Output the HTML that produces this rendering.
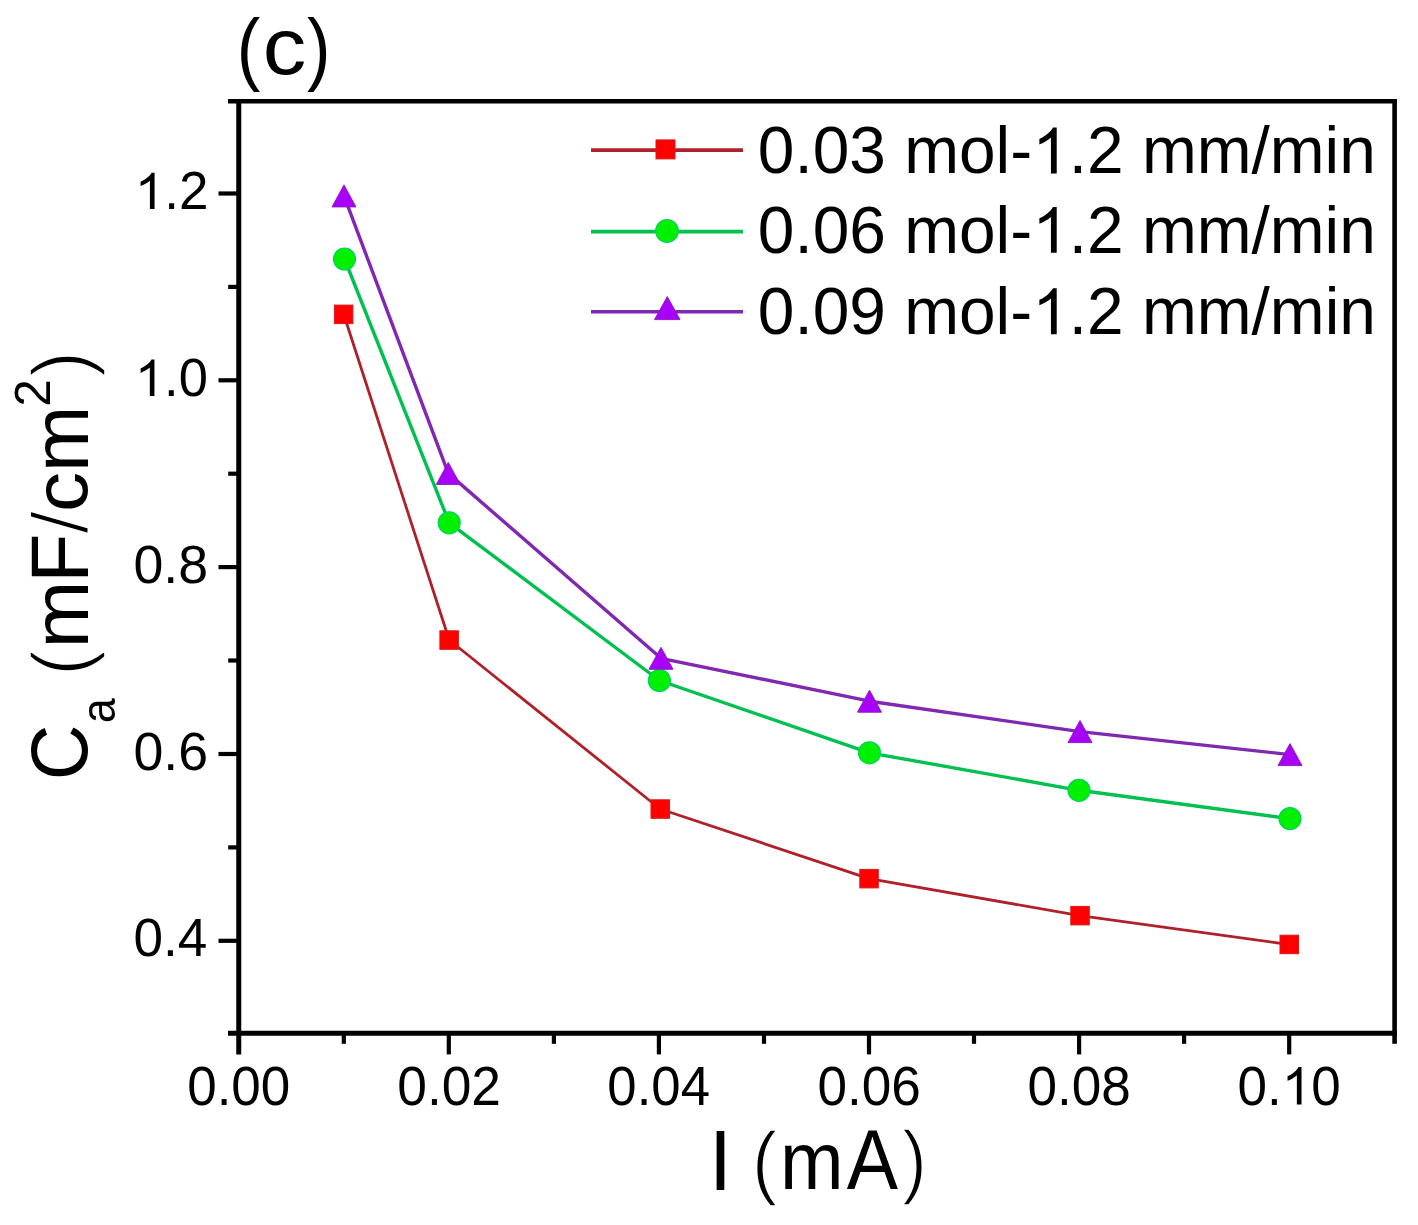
<!DOCTYPE html>
<html><head><meta charset="utf-8"><style>
html,body{margin:0;padding:0;background:#fff;overflow:hidden;}
svg{display:block;will-change:transform;}
text{font-family:"Liberation Sans", sans-serif;}
</style></head><body>
<svg width="1418" height="1225" viewBox="0 0 1418 1225">
<rect x="0" y="0" width="1418" height="1225" fill="#fff"/>
<polyline points="343.7,314.3 449.2,640.0 660.2,809.0 869.0,878.6 1080.0,915.6 1289.3,944.5" fill="none" stroke="#b0202a" stroke-width="2.8" stroke-linejoin="round"/>
<polyline points="344.5,259.0 449.2,522.8 659.4,680.5 869.5,752.8 1079.0,790.3 1290.0,818.6" fill="none" stroke="#00c050" stroke-width="3.4" stroke-linejoin="round"/>
<polyline points="344.0,195.9 448.3,473.4 661.0,658.3 869.5,701.2 1080.0,731.6 1290.0,754.6" fill="none" stroke="#8028b0" stroke-width="3.4" stroke-linejoin="round"/>
<rect x="334.4" y="305.1" width="18.5" height="18.5" fill="#ff0000" stroke="#d81a1a" stroke-width="1"/>
<rect x="439.9" y="630.8" width="18.5" height="18.5" fill="#ff0000" stroke="#d81a1a" stroke-width="1"/>
<rect x="651.0" y="799.8" width="18.5" height="18.5" fill="#ff0000" stroke="#d81a1a" stroke-width="1"/>
<rect x="859.8" y="869.4" width="18.5" height="18.5" fill="#ff0000" stroke="#d81a1a" stroke-width="1"/>
<rect x="1070.8" y="906.4" width="18.5" height="18.5" fill="#ff0000" stroke="#d81a1a" stroke-width="1"/>
<rect x="1280.0" y="935.2" width="18.5" height="18.5" fill="#ff0000" stroke="#d81a1a" stroke-width="1"/>
<circle cx="344.5" cy="259.0" r="11" fill="#00f000" stroke="#00d060" stroke-width="1.2"/>
<circle cx="449.2" cy="522.8" r="11" fill="#00f000" stroke="#00d060" stroke-width="1.2"/>
<circle cx="659.4" cy="680.5" r="11" fill="#00f000" stroke="#00d060" stroke-width="1.2"/>
<circle cx="869.5" cy="752.8" r="11" fill="#00f000" stroke="#00d060" stroke-width="1.2"/>
<circle cx="1079.0" cy="790.3" r="11" fill="#00f000" stroke="#00d060" stroke-width="1.2"/>
<circle cx="1290.0" cy="818.6" r="11" fill="#00f000" stroke="#00d060" stroke-width="1.2"/>
<polygon points="332.0,206.9 356.0,206.9 344.0,184.9" fill="#a800f8" stroke="#8a20c0" stroke-width="1" stroke-linejoin="miter"/>
<polygon points="436.3,484.4 460.3,484.4 448.3,462.4" fill="#a800f8" stroke="#8a20c0" stroke-width="1" stroke-linejoin="miter"/>
<polygon points="649.0,669.3 673.0,669.3 661.0,647.3" fill="#a800f8" stroke="#8a20c0" stroke-width="1" stroke-linejoin="miter"/>
<polygon points="857.5,712.2 881.5,712.2 869.5,690.2" fill="#a800f8" stroke="#8a20c0" stroke-width="1" stroke-linejoin="miter"/>
<polygon points="1068.0,742.6 1092.0,742.6 1080.0,720.6" fill="#a800f8" stroke="#8a20c0" stroke-width="1" stroke-linejoin="miter"/>
<polygon points="1278.0,765.6 1302.0,765.6 1290.0,743.6" fill="#a800f8" stroke="#8a20c0" stroke-width="1" stroke-linejoin="miter"/>
<line x1="238.75" y1="99.3" x2="238.75" y2="1054.5" stroke="#000" stroke-width="5"/>
<line x1="228" y1="1033.2" x2="1397" y2="1033.2" stroke="#000" stroke-width="5"/>
<line x1="228" y1="101.2" x2="1397" y2="101.2" stroke="#000" stroke-width="4.6"/>
<line x1="1394.6" y1="98.9" x2="1394.6" y2="1043.8" stroke="#000" stroke-width="4.6"/>
<line x1="218.5" y1="940.8" x2="238.75" y2="940.8" stroke="#000" stroke-width="4.2"/>
<line x1="228.2" y1="847.4" x2="238.75" y2="847.4" stroke="#000" stroke-width="4.2"/>
<line x1="218.5" y1="754.0" x2="238.75" y2="754.0" stroke="#000" stroke-width="4.2"/>
<line x1="228.2" y1="660.5" x2="238.75" y2="660.5" stroke="#000" stroke-width="4.2"/>
<line x1="218.5" y1="567.1" x2="238.75" y2="567.1" stroke="#000" stroke-width="4.2"/>
<line x1="228.2" y1="473.7" x2="238.75" y2="473.7" stroke="#000" stroke-width="4.2"/>
<line x1="218.5" y1="380.3" x2="238.75" y2="380.3" stroke="#000" stroke-width="4.2"/>
<line x1="228.2" y1="286.9" x2="238.75" y2="286.9" stroke="#000" stroke-width="4.2"/>
<line x1="218.5" y1="193.5" x2="238.75" y2="193.5" stroke="#000" stroke-width="4.2"/>
<line x1="343.8" y1="1033" x2="343.8" y2="1043.8" stroke="#000" stroke-width="4.2"/>
<line x1="448.8" y1="1033" x2="448.8" y2="1054.4" stroke="#000" stroke-width="4.2"/>
<line x1="553.9" y1="1033" x2="553.9" y2="1043.8" stroke="#000" stroke-width="4.2"/>
<line x1="658.9" y1="1033" x2="658.9" y2="1054.4" stroke="#000" stroke-width="4.2"/>
<line x1="764.0" y1="1033" x2="764.0" y2="1043.8" stroke="#000" stroke-width="4.2"/>
<line x1="869.0" y1="1033" x2="869.0" y2="1054.4" stroke="#000" stroke-width="4.2"/>
<line x1="974.0" y1="1033" x2="974.0" y2="1043.8" stroke="#000" stroke-width="4.2"/>
<line x1="1079.1" y1="1033" x2="1079.1" y2="1054.4" stroke="#000" stroke-width="4.2"/>
<line x1="1184.1" y1="1033" x2="1184.1" y2="1043.8" stroke="#000" stroke-width="4.2"/>
<line x1="1289.2" y1="1033" x2="1289.2" y2="1054.4" stroke="#000" stroke-width="4.2"/>
<g transform="translate(187.180,1104.600) scale(0.52993,0.54709)"><text x="0" y="0" font-size="100.0" fill="#000" xml:space="preserve">0.00</text></g>
<g transform="translate(397.247,1104.600) scale(0.53314,0.54709)"><text x="0" y="0" font-size="100.0" fill="#000" xml:space="preserve">0.02</text></g>
<g transform="translate(607.351,1104.600) scale(0.52718,0.54709)"><text x="0" y="0" font-size="100.0" fill="#000" xml:space="preserve">0.04</text></g>
<g transform="translate(817.415,1104.600) scale(0.53132,0.54709)"><text x="0" y="0" font-size="100.0" fill="#000" xml:space="preserve">0.06</text></g>
<g transform="translate(1027.495,1104.600) scale(0.53118,0.54709)"><text x="0" y="0" font-size="100.0" fill="#000" xml:space="preserve">0.08</text></g>
<g transform="translate(1237.580,1104.600) scale(0.52993,0.54709)"><text x="0" y="0" font-size="100.0" fill="#000" xml:space="preserve">0. 0</text><path d="M763 0L583 0L583 1100C540 1060 483 1020 413 980C343 940 280 910 223 890L223 1057C324 1102 412 1158 487 1222C562 1286 615 1348 646 1409L763 1409Z" transform="translate(83.398,0) scale(0.048828,-0.048828)" fill="#000"/></g>
<g transform="translate(133.525,956.380) scale(0.53110,0.52990)"><text x="0" y="0" font-size="100.0" fill="#000" xml:space="preserve">0.4</text></g>
<g transform="translate(133.502,769.560) scale(0.53705,0.52990)"><text x="0" y="0" font-size="100.0" fill="#000" xml:space="preserve">0.6</text></g>
<g transform="translate(133.503,582.740) scale(0.53685,0.52990)"><text x="0" y="0" font-size="100.0" fill="#000" xml:space="preserve">0.8</text></g>
<g transform="translate(134.885,395.920) scale(0.52488,0.52990)"><text x="0" y="0" font-size="100.0" fill="#000" xml:space="preserve"> .0</text><path d="M763 0L583 0L583 1100C540 1060 483 1020 413 980C343 940 280 910 223 890L223 1057C324 1102 412 1158 487 1222C562 1286 615 1348 646 1409L763 1409Z" transform="translate(0.000,0) scale(0.048828,-0.048828)" fill="#000"/></g>
<g transform="translate(134.833,209.100) scale(0.52967,0.52990)"><text x="0" y="0" font-size="100.0" fill="#000" xml:space="preserve"> .2</text><path d="M763 0L583 0L583 1100C540 1060 483 1020 413 980C343 940 280 910 223 890L223 1057C324 1102 412 1158 487 1222C562 1286 615 1348 646 1409L763 1409Z" transform="translate(0.000,0) scale(0.048828,-0.048828)" fill="#000"/></g>
<line x1="591" y1="150.1" x2="743" y2="150.1" stroke="#b0202a" stroke-width="3.6"/>
<rect x="656.0" y="139.9" width="19" height="19" fill="#ff0000" stroke="#d81a1a" stroke-width="1"/>
<g transform="translate(757.829,173.400) scale(0.65819,0.66739)"><text x="0" y="0" font-size="100.0" fill="#000" xml:space="preserve">0.03 mol- .2 mm/min</text><path d="M763 0L583 0L583 1100C540 1060 483 1020 413 980C343 940 280 910 223 890L223 1057C324 1102 412 1158 487 1222C562 1286 615 1348 646 1409L763 1409Z" transform="translate(416.846,0) scale(0.048828,-0.048828)" fill="#000"/></g>
<line x1="591" y1="231.6" x2="743" y2="231.6" stroke="#00c050" stroke-width="3.6"/>
<circle cx="667.0" cy="231.0" r="11.3" fill="#00f000" stroke="#00d060" stroke-width="1.2"/>
<g transform="translate(757.829,252.800) scale(0.65819,0.66739)"><text x="0" y="0" font-size="100.0" fill="#000" xml:space="preserve">0.06 mol- .2 mm/min</text><path d="M763 0L583 0L583 1100C540 1060 483 1020 413 980C343 940 280 910 223 890L223 1057C324 1102 412 1158 487 1222C562 1286 615 1348 646 1409L763 1409Z" transform="translate(416.846,0) scale(0.048828,-0.048828)" fill="#000"/></g>
<line x1="591" y1="311.8" x2="743" y2="311.8" stroke="#8028b0" stroke-width="3.6"/>
<polygon points="654.5,319.6 680.0,319.6 667.3,296.6" fill="#a800f8" stroke="#8a20c0" stroke-width="1" stroke-linejoin="miter"/>
<g transform="translate(757.829,334.300) scale(0.65819,0.66882)"><text x="0" y="0" font-size="100.0" fill="#000" xml:space="preserve">0.09 mol- .2 mm/min</text><path d="M763 0L583 0L583 1100C540 1060 483 1020 413 980C343 940 280 910 223 890L223 1057C324 1102 412 1158 487 1222C562 1286 615 1348 646 1409L763 1409Z" transform="translate(416.846,0) scale(0.048828,-0.048828)" fill="#000"/></g>
<g transform="translate(236.803,74.967) scale(0.70907,0.78893)"><text x="0" y="0" font-size="100.0" fill="#000" xml:space="preserve">(</text></g>
<g transform="translate(262.705,74.226) scale(0.86976,0.79219)"><text x="0" y="0" font-size="100.0" fill="#000" xml:space="preserve">c</text></g>
<g transform="translate(306.987,74.967) scale(0.70530,0.78893)"><text x="0" y="0" font-size="100.0" fill="#000" xml:space="preserve">)</text></g>
<g transform="translate(708.881,1189.600) scale(0.82563,0.85757)"><text x="0" y="0" font-size="100.0" fill="#000" xml:space="preserve">I</text></g>
<g transform="translate(751.829,1188.667) scale(0.76941,0.80825)"><text x="0" y="0" font-size="100.0" fill="#000" stroke="#fff" stroke-width="2.028" xml:space="preserve">(</text></g>
<g transform="translate(779.930,1189.400) scale(0.76354,0.81028)"><text x="0" y="0" font-size="100.0" fill="#000" xml:space="preserve">m</text></g>
<g transform="translate(846.650,1189.400) scale(0.76913,0.85031)"><text x="0" y="0" font-size="100.0" fill="#000" xml:space="preserve">A</text></g>
<g transform="translate(902.060,1188.467) scale(0.75056,0.81791)"><text x="0" y="0" font-size="100.0" fill="#000" stroke="#fff" stroke-width="2.040" xml:space="preserve">)</text></g>
<g transform="translate(86.617,780.313) rotate(-90) scale(0.77057,0.80225)"><text x="0" y="0" font-size="100.0" fill="#000" xml:space="preserve">C</text></g>
<g transform="translate(114.838,723.310) rotate(-90) scale(0.44970,0.47276)"><text x="0" y="0" font-size="100.0" fill="#000" xml:space="preserve">a</text></g>
<g transform="translate(88.378,675.818) rotate(-90) scale(0.77696,0.80288)"><text x="0" y="0" font-size="100.0" fill="#000" stroke="#fff" stroke-width="2.026" xml:space="preserve">(</text></g>
<g transform="translate(88.200,648.412) rotate(-90) scale(0.81492,0.79541)"><text x="0" y="0" font-size="100.0" fill="#000" xml:space="preserve">m</text></g>
<g transform="translate(87.700,582.813) rotate(-90) scale(0.80611,0.82414)"><text x="0" y="0" font-size="100.0" fill="#000" xml:space="preserve">F</text></g>
<g transform="translate(87.722,534.000) rotate(-90) scale(0.83504,0.79660)"><text x="0" y="0" font-size="100.0" fill="#000" stroke="#fff" stroke-width="2.452" xml:space="preserve">/</text></g>
<g transform="translate(86.657,511.919) rotate(-90) scale(0.80482,0.76116)"><text x="0" y="0" font-size="100.0" fill="#000" xml:space="preserve">c</text></g>
<g transform="translate(88.100,472.088) rotate(-90) scale(0.79637,0.78984)"><text x="0" y="0" font-size="100.0" fill="#000" xml:space="preserve">m</text></g>
<g transform="translate(49.700,406.795) rotate(-90) scale(0.49609,0.49839)"><text x="0" y="0" font-size="100.0" fill="#000" xml:space="preserve">2</text></g>
<g transform="translate(87.556,376.953) rotate(-90) scale(0.77319,0.79430)"><text x="0" y="0" font-size="100.0" fill="#000" stroke="#fff" stroke-width="2.041" xml:space="preserve">)</text></g>
</svg>
</body></html>
